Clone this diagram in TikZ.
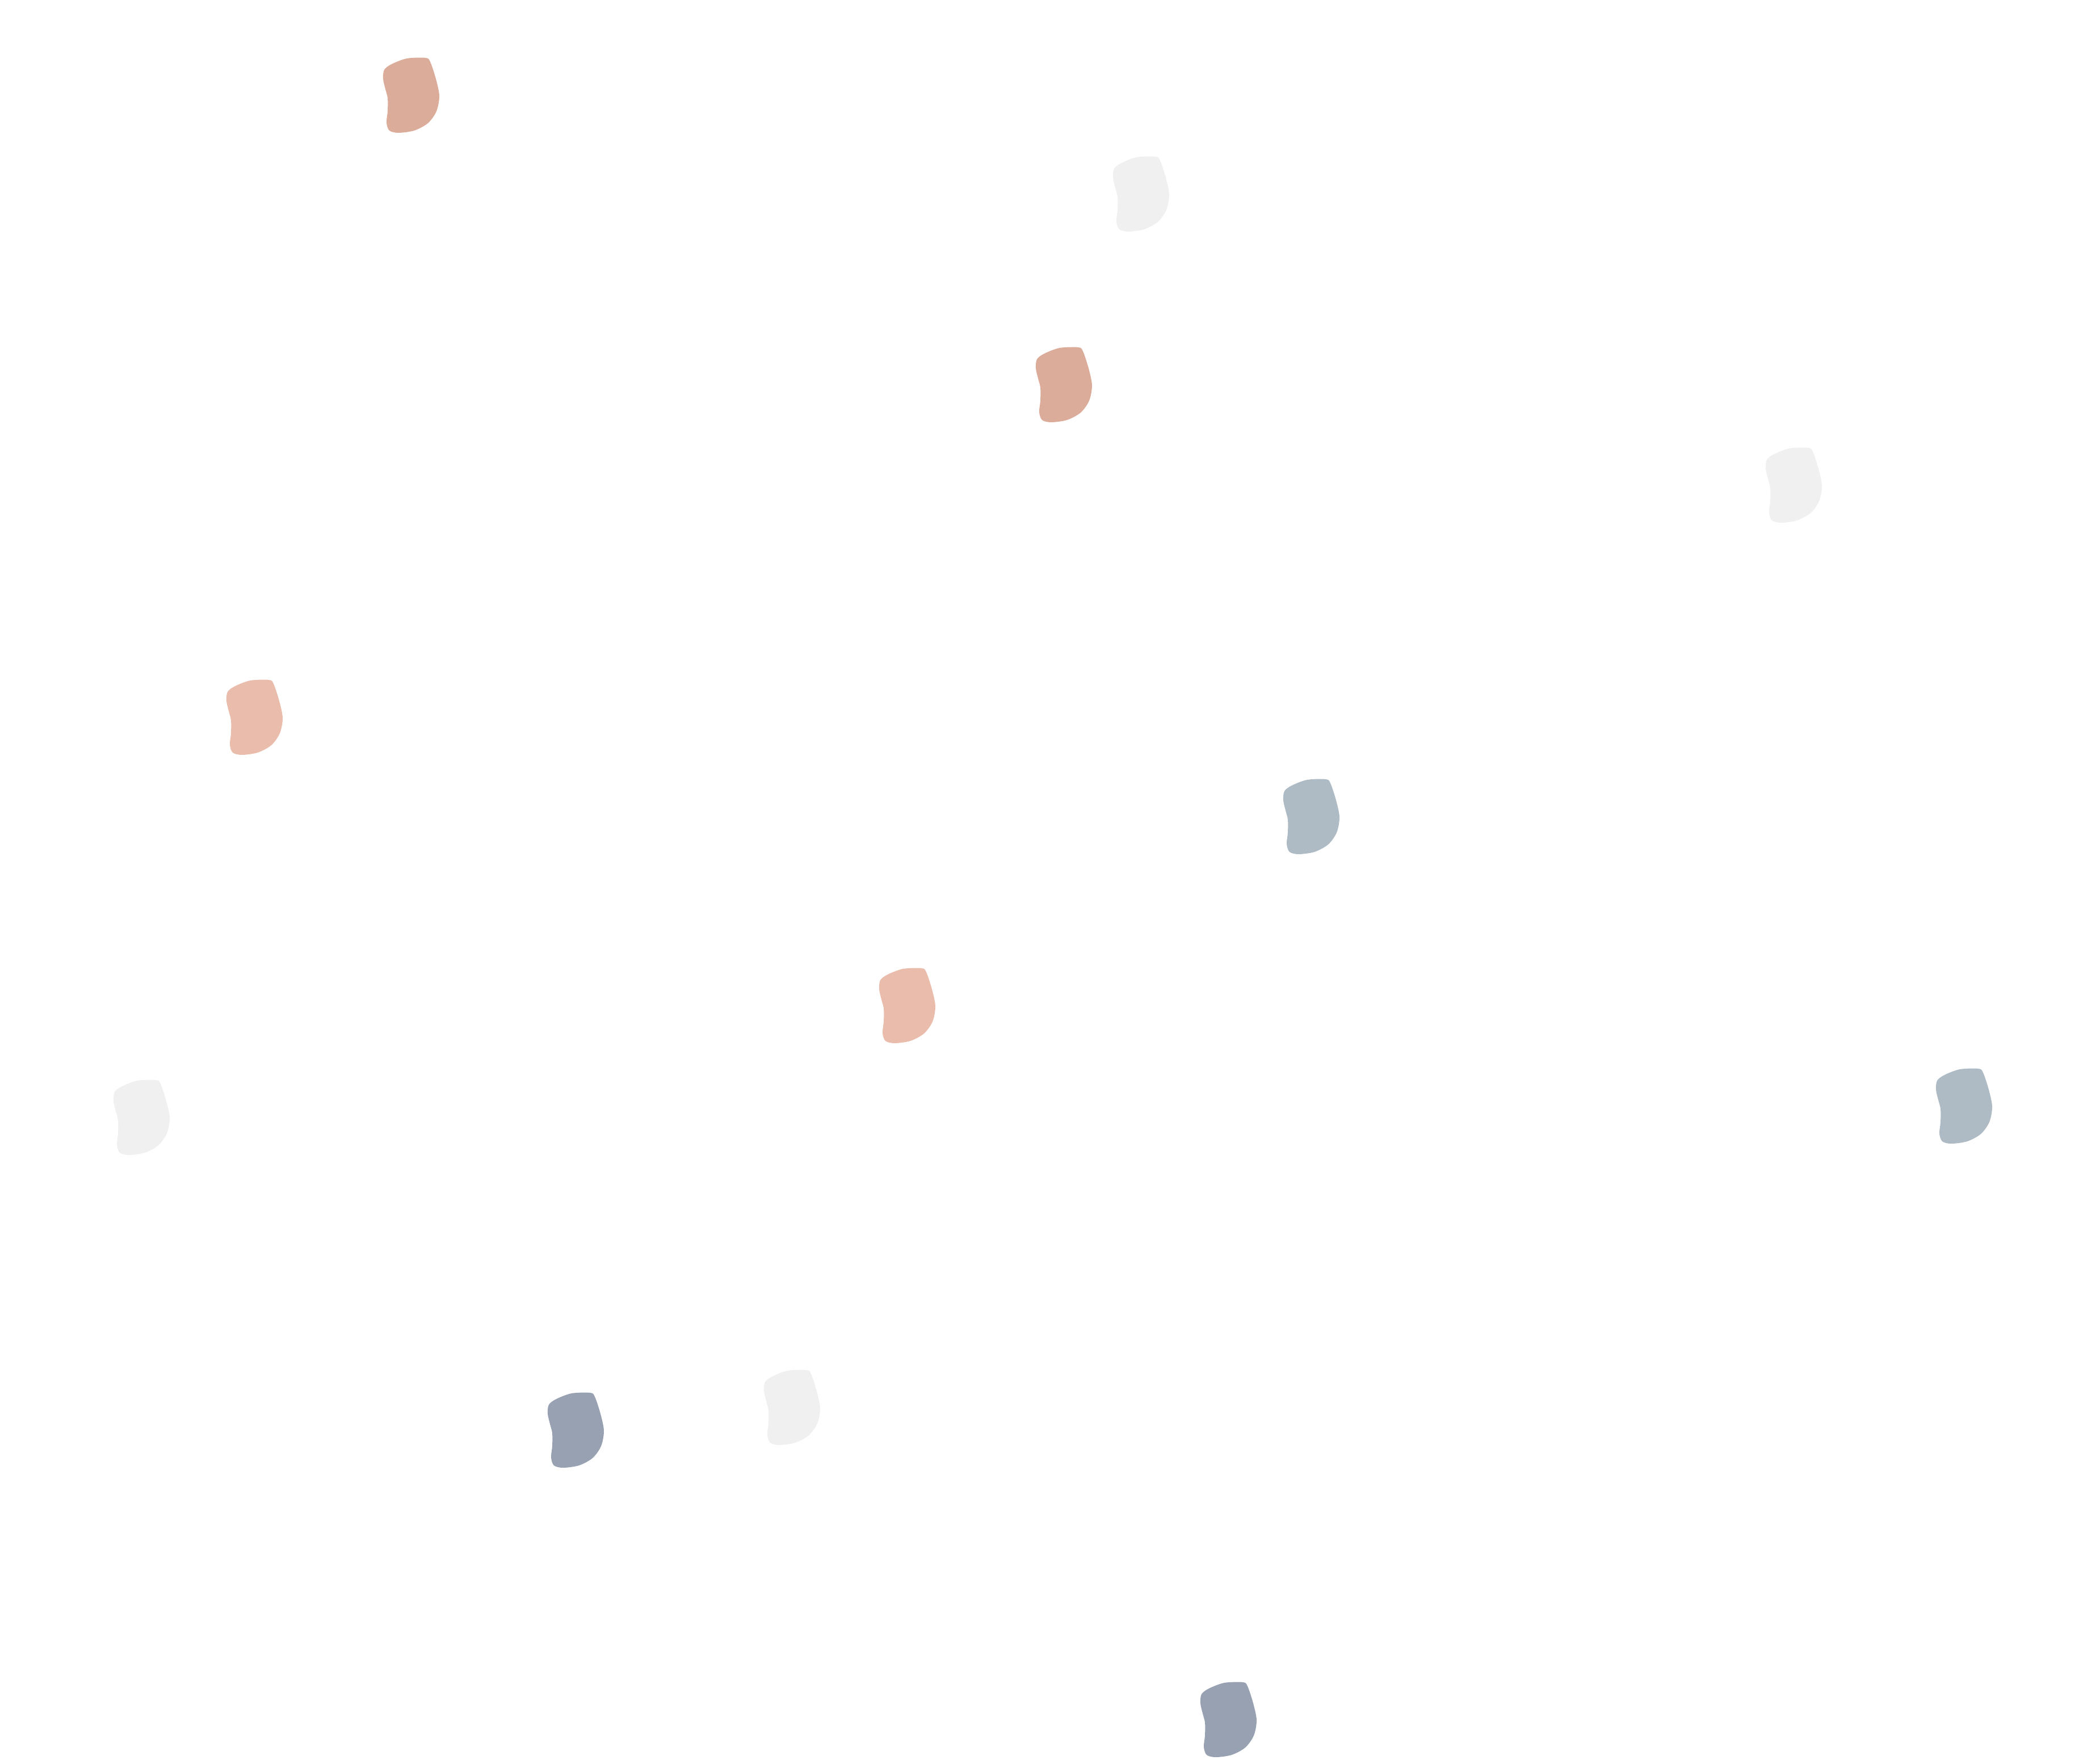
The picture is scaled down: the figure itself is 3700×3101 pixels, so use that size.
\documentclass[tikz,border=0pt]{standalone}
\usepackage{tikz}
\usetikzlibrary{positioning}
\definecolor{dustrose}{HTML}{DCAC9B}
\definecolor{peach}{HTML}{E9BCAC}
\definecolor{mist}{HTML}{F0F0F0}
\definecolor{steel}{HTML}{AEBBC5}
\definecolor{slate}{HTML}{98A1B2}
\tikzset{blob/.pic={
           \fill[pic actions] plot[smooth cycle,tension=0.5] coordinates
             {(18,12) (45,2) (78,1) (86,8) (96,38) (102,68) (97,95) (82,116)
              (58,129) (30,133) (14,129) (9,115) (11,95) (11,72) (7,56) (3,38) (5,22)};
         }
}

\begin{document}
\begin{tikzpicture}[x=0.01cm,y=-0.01cm]

\useasboundingbox (0,0) rectangle (3700,3101);
\pic[fill=dustrose] (b1) at (672,101) {blob};
\pic[fill=mist] (b2) at (1958,275) {blob};
\pic[fill=dustrose] (b3) at (1822,611) {blob};
\pic[fill=mist] (b4) at (3108,788) {blob};
\pic[fill=peach] (b5) at (396,1197) {blob};
\pic[fill=steel] (b6) at (2258,1372) {blob};
\pic[fill=peach] (b7) at (1546,1705) {blob};
\pic[fill=mist] (b8) at (197,1902) {blob};
\pic[fill=steel] (b9) at (3408,1882) {blob};
\pic[fill=slate] (b10) at (962,2453) {blob};
\pic[fill=mist] (b11) at (1343,2413) {blob};
\pic[fill=slate] (b12) at (2112,2963) {blob};

\end{tikzpicture}
\end{document}
